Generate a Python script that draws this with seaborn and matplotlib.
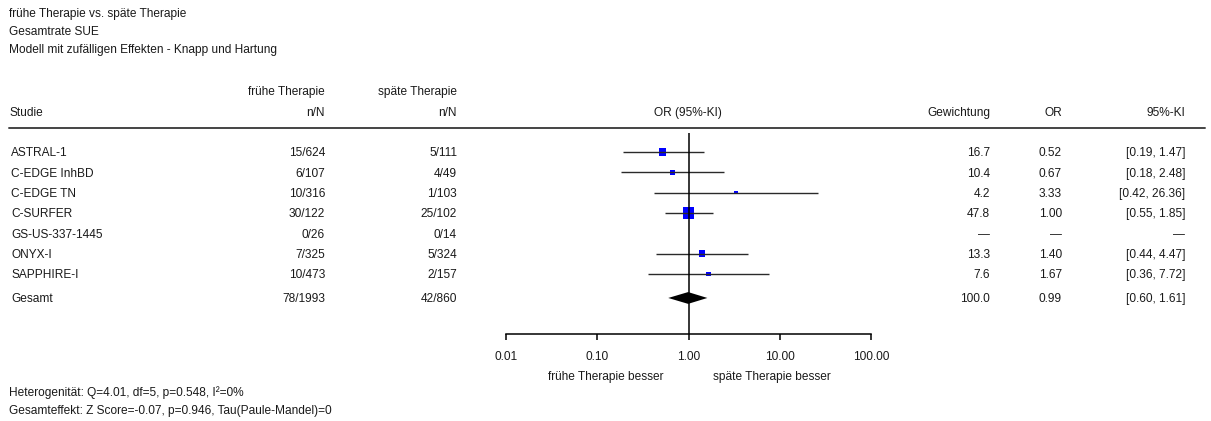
import numpy as np
import pandas as pd
import matplotlib
matplotlib.use("Agg")
import matplotlib.pyplot as plt
from matplotlib.lines import Line2D
import seaborn as sns

# Daten aus der Grafik
studien = ["ASTRAL-1", "C-EDGE InhBD", "C-EDGE TN", "C-SURFER",
           "GS-US-337-1445", "ONYX-I", "SAPPHIRE-I"]
frueh_n = [15, 6, 10, 30, 0, 7, 10]
frueh_N = [624, 107, 316, 122, 26, 325, 473]
spaet_n = [5, 4, 1, 25, 0, 5, 2]
spaet_N = [111, 49, 103, 102, 14, 324, 157]
gewichtung = [16.7, 10.4, 4.2, 47.8, np.nan, 13.3, 7.6]
or_werte = [0.52, 0.67, 3.33, 1.00, np.nan, 1.40, 1.67]
ki_unten = [0.19, 0.18, 0.42, 0.55, np.nan, 0.44, 0.36]
ki_oben = [1.47, 2.48, 26.36, 1.85, np.nan, 4.47, 7.72]

gesamt_gewicht = 100.0
gesamt_or = 0.99
gesamt_ki = [0.60, 1.61]

titel = ["frühe Therapie vs. späte Therapie",
         "Gesamtrate SUE",
         "Modell mit zufälligen Effekten - Knapp und Hartung"]
fusszeilen = ["Heterogenität: Q=4.01, df=5, p=0.548, I²=0%",
              "Gesamteffekt: Z Score=-0.07, p=0.946, Tau(Paule-Mandel)=0"]
x_ticks = [0.01, 0.1, 1, 10, 100]

df = pd.DataFrame({
    "studie": studien, "frueh_n": frueh_n, "frueh_N": frueh_N,
    "spaet_n": spaet_n, "spaet_N": spaet_N, "gewicht": gewichtung,
    "OR": or_werte, "lo": ki_unten, "hi": ki_oben,
})
df["zeile"] = np.arange(len(df))

sns.set_style("white")
plt.rcParams["font.family"] = ["Liberation Sans", "DejaVu Sans"]
FS = 8.6
TXT = "#1a1a1a"

W, H = 1211, 421
fig = plt.figure(figsize=(W / 100, H / 100), dpi=100)


def fx(x):
    return x / W


def fy(y):
    return 1 - y / H


def txt(x, y, s, ha="left"):
    # y = visuelle Mitte der Zeile in Pixel von oben
    fig.text(fx(x), fy(y + 4.3), s, ha=ha, va="baseline", fontsize=FS, color=TXT)


# Kopf
for i, t in enumerate(titel):
    txt(9, 13 + 18 * i, t)
txt(325, 91, "frühe Therapie", ha="right")
txt(457, 91, "späte Therapie", ha="right")
txt(9, 112, "Studie")
txt(325, 112, "n/N", ha="right")
txt(457, 112, "n/N", ha="right")
txt(688, 112, "OR (95%-KI)", ha="center")
txt(990, 112, "Gewichtung", ha="right")
txt(1062, 112, "OR", ha="right")
txt(1185, 112, "95%-KI", ha="right")
fig.add_artist(Line2D([fx(9), fx(1205)], [fy(128), fy(128)],
                      color="#444444", lw=1.4, transform=fig.transFigure))

# Zeilen
zeile_px = 20.33
for _, r in df.iterrows():
    y = 152 + zeile_px * r["zeile"]
    txt(11, y, r["studie"])
    txt(325, y, f"{r['frueh_n']}/{r['frueh_N']}", ha="right")
    txt(457, y, f"{r['spaet_n']}/{r['spaet_N']}", ha="right")
    if np.isnan(r["OR"]):
        txt(990, y, "—", ha="right")
        txt(1062, y, "—", ha="right")
        txt(1185, y, "—", ha="right")
    else:
        txt(990, y, f"{r['gewicht']:.1f}", ha="right")
        txt(1062, y, f"{r['OR']:.2f}", ha="right")
        txt(1185, y, f"[{r['lo']:.2f}, {r['hi']:.2f}]", ha="right")

gesamt_zeile = 7.18
yg = 152 + zeile_px * gesamt_zeile
txt(11, yg, "Gesamt")
txt(325, yg, f"{sum(frueh_n)}/{sum(frueh_N)}", ha="right")
txt(457, yg, f"{sum(spaet_n)}/{sum(spaet_N)}", ha="right")
txt(990, yg, f"{gesamt_gewicht:.1f}", ha="right")
txt(1062, yg, f"{gesamt_or:.2f}", ha="right")
txt(1185, yg, f"[{gesamt_ki[0]:.2f}, {gesamt_ki[1]:.2f}]", ha="right")

# Forest-Plot
ax = fig.add_axes([fx(506), fy(334), fx(871) - fx(506), (334 - 130) / H])
ax.set_xscale("log")
ax.set_xlim(0.01, 100)
y_unten = (334 - 152) / zeile_px
y_oben = (130 - 152) / zeile_px
ax.set_ylim(y_unten, y_oben)

d = df.dropna(subset=["OR"])
k = 1.56  # Fläche in pt^2 pro Prozent Gewicht
sns.scatterplot(data=d, x="OR", y="zeile", size="gewicht",
                sizes=(k * d["gewicht"].min(), k * d["gewicht"].max()),
                marker="s", color="#0000ff", linewidth=0, legend=False,
                ax=ax, zorder=2)
ax.hlines(d["zeile"], d["lo"], d["hi"], color="#2a2a2a", lw=1.0, zorder=3)
ax.vlines(1, (133 - 152) / zeile_px, y_unten, color="black", lw=1.1, zorder=4)

h = 0.29
ax.fill([gesamt_ki[0], gesamt_or, gesamt_ki[1], gesamt_or],
        [gesamt_zeile, gesamt_zeile - h, gesamt_zeile, gesamt_zeile + h],
        color="black", lw=0, zorder=5)

sns.despine(ax=ax, left=True, top=True, right=True)
ax.spines["bottom"].set_color("black")
ax.spines["bottom"].set_linewidth(1.1)
ax.set_yticks([])
ax.set_xticks(x_ticks)
ax.set_xticklabels([f"{t:.2f}" for t in x_ticks])
ax.xaxis.set_minor_locator(matplotlib.ticker.NullLocator())
ax.tick_params(axis="x", direction="out", length=4, width=1.1, color="black",
               pad=8.5, labelsize=FS, labelcolor=TXT, bottom=True)
ax.set_xlabel("")
ax.set_ylabel("")
ax.patch.set_alpha(0)

txt(663, 376, "frühe Therapie besser", ha="right")
txt(713, 376, "späte Therapie besser", ha="left")

for i, t in enumerate(fusszeilen):
    txt(9, 392 + 18 * i, t)

fig.savefig("out.png", dpi=100)
